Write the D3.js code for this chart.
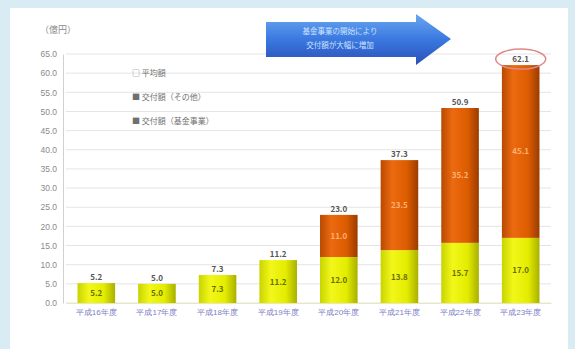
<!DOCTYPE html>
<html>
<head>
<meta charset="utf-8">
<script src="https://cdn.jsdelivr.net/npm/d3@7"></script>
<style>
  body { margin: 0; background: #d9ecf3; }
  svg { display: block; font-family: "Noto Sans CJK JP", "Noto Sans", sans-serif; }
</style>
</head>
<body>
<script>
// Data.
const years = ['平成16年度', '平成17年度', '平成18年度', '平成19年度', '平成20年度', '平成21年度', '平成22年度', '平成23年度'];
const baseValues = [5.2, 5.0, 7.3, 11.2, 12.0, 13.8, 15.7, 17.0];
const extraValues = [0, 0, 0, 0, 11.0, 23.5, 35.2, 45.1];
const yTicks = [0, 5, 10, 15, 20, 25, 30, 35, 40, 45, 50, 55, 60, 65];
const legendLabels = ['□ 平均額', '■ 交付額（その他）', '■ 交付額（基金事業）'];

const width = 575, height = 349;
const margin = {top: 54, right: 24, bottom: 46, left: 66};

const svg = d3.select('body').append('svg')
  .attr('width', width)
  .attr('height', height);

const defs = svg.append('defs');
function barGradient(id, stops) {
  const g = defs.append('linearGradient').attr('id', id)
    .attr('x1', '0%').attr('x2', '100%').attr('y1', '0%').attr('y2', '0%');
  stops.forEach(s => g.append('stop').attr('offset', s[0]).attr('stop-color', s[1]));
}
barGradient('gYellow', [['0%', '#c8d400'], ['30%', '#f2f71a'], ['70%', '#e4ec00'], ['100%', '#a8b000']]);
barGradient('gOrange', [['0%', '#b84a00'], ['30%', '#ec6a10'], ['70%', '#dc5c00'], ['100%', '#9a3c00']]);
const arrowGrad = defs.append('linearGradient').attr('id', 'gArrow')
  .attr('x1', '0%').attr('x2', '0%').attr('y1', '0%').attr('y2', '100%');
arrowGrad.append('stop').attr('offset', '0%').attr('stop-color', '#6aa8f0');
arrowGrad.append('stop').attr('offset', '50%').attr('stop-color', '#3a78e0');
arrowGrad.append('stop').attr('offset', '100%').attr('stop-color', '#2a50b8');

// White panel.
svg.append('rect')
  .attr('x', 10).attr('y', 8)
  .attr('width', 558).attr('height', 341)
  .attr('fill', '#ffffff');

const x = d3.scaleBand()
  .domain(years)
  .range([margin.left, width - margin.right])
  .paddingInner(0.38)
  .paddingOuter(0.19);

const y = d3.scaleLinear()
  .domain([0, 65])
  .range([height - margin.bottom, margin.top]);

// Grid lines.
svg.append('g')
  .selectAll('line')
  .data(yTicks)
  .join('line')
  .attr('x1', margin.left)
  .attr('x2', width - margin.right)
  .attr('y1', d => y(d))
  .attr('y2', d => y(d))
  .attr('stroke', '#e4e4e4')
  .attr('stroke-width', 1);

// Y axis.
const yAxis = d3.axisLeft(y)
  .tickValues(yTicks)
  .tickFormat(d3.format('.1f'))
  .tickSize(0)
  .tickPadding(6);

const yG = svg.append('g')
  .attr('transform', 'translate(' + (margin.left - 3) + ',0)')
  .call(yAxis);
yG.select('.domain').attr('stroke', '#d0d0d0');
yG.selectAll('text').attr('fill', '#8a8a8a').attr('font-size', 8.5);

svg.append('text')
  .attr('x', 40).attr('y', 33)
  .attr('fill', '#8a8a8a')
  .attr('font-size', 9)
  .text('（億円）');

// Bars.
const bars = svg.append('g');
years.forEach((yr, i) => {
  const b = baseValues[i];
  const e = extraValues[i];
  bars.append('rect')
    .attr('x', x(yr))
    .attr('y', y(b))
    .attr('width', x.bandwidth())
    .attr('height', y(0) - y(b))
    .attr('fill', 'url(#gYellow)');
  if (e > 0) {
    bars.append('rect')
      .attr('x', x(yr))
      .attr('y', y(b + e))
      .attr('width', x.bandwidth())
      .attr('height', y(b) - y(b + e))
      .attr('fill', 'url(#gOrange)');
    bars.append('text')
      .attr('x', x(yr) + x.bandwidth() / 2)
      .attr('y', y(b + e / 2) + 3)
      .attr('text-anchor', 'middle')
      .attr('font-size', 8)
      .attr('font-weight', 'bold')
      .attr('fill', '#ffb070')
      .text(e.toFixed(1));
  }
  bars.append('text')
    .attr('x', x(yr) + x.bandwidth() / 2)
    .attr('y', y(b / 2) + 3)
    .attr('text-anchor', 'middle')
    .attr('font-size', 8)
    .attr('font-weight', 'bold')
    .attr('fill', '#6a7000')
    .text(b.toFixed(1));
  bars.append('text')
    .attr('x', x(yr) + x.bandwidth() / 2)
    .attr('y', y(b + e) - 3)
    .attr('text-anchor', 'middle')
    .attr('font-size', 8)
    .attr('font-weight', 'bold')
    .attr('fill', '#555555')
    .text((b + e).toFixed(1));
});

// Circle round the last total.
const last = years[years.length - 1];
svg.append('ellipse')
  .attr('cx', x(last) + x.bandwidth() / 2)
  .attr('cy', y(baseValues[7] + extraValues[7]) - 6)
  .attr('rx', 25).attr('ry', 10)
  .attr('fill', 'none')
  .attr('stroke', '#e08888')
  .attr('stroke-width', 1.5);

// X axis labels.
const xAxis = d3.axisBottom(x).tickSize(0).tickPadding(6);
const xG = svg.append('g')
  .attr('transform', 'translate(0,' + y(0) + ')')
  .call(xAxis);
xG.select('.domain').attr('stroke', '#e8e8c0');
xG.selectAll('text').attr('fill', '#8080c8').attr('font-size', 8);

// Legend notes.
svg.append('g')
  .selectAll('text')
  .data(legendLabels)
  .join('text')
  .attr('x', 132)
  .attr('y', (d, i) => 76 + i * 24)
  .attr('fill', '#707070')
  .attr('font-size', 8)
  .text(d => d);

// Arrow.
svg.append('path')
  .attr('d', 'M266,22 L416,22 L416,14 L451,39 L416,65 L416,57 L266,57 Z')
  .attr('fill', 'url(#gArrow)');
svg.append('text')
  .attr('x', 340).attr('y', 34)
  .attr('text-anchor', 'middle')
  .attr('fill', '#cfe4ff')
  .attr('font-size', 7.5)
  .text('基金事業の開始により');
svg.append('text')
  .attr('x', 340).attr('y', 48)
  .attr('text-anchor', 'middle')
  .attr('fill', '#cfe4ff')
  .attr('font-size', 7.5)
  .text('交付額が大幅に増加');
</script>
</body>
</html>
